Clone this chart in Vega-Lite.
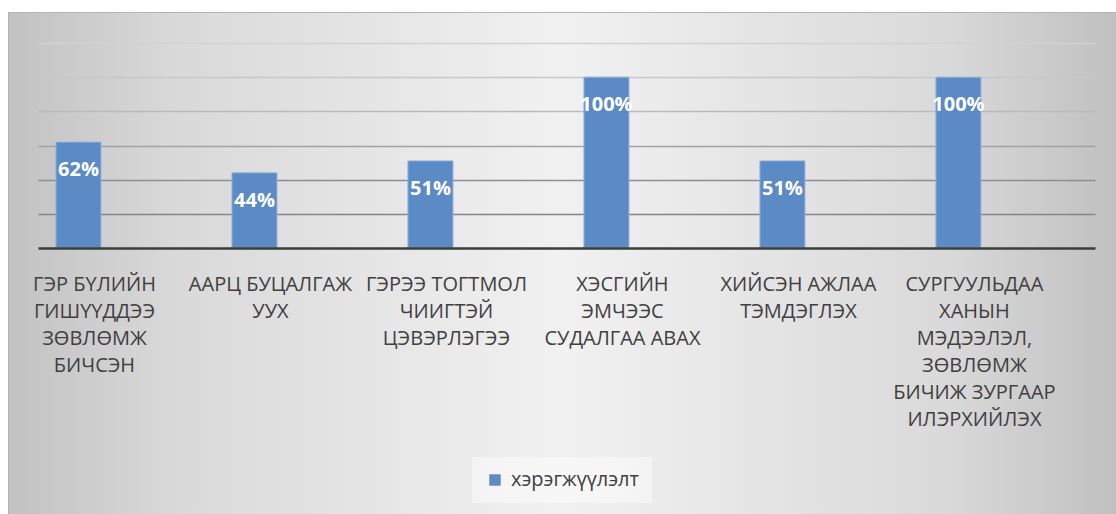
{
  "$schema": "https://vega.github.io/schema/vega-lite/v6.json",
  "width": 1108,
  "height": 502,
  "autosize": {"type": "none"},
  "padding": {"left": 8, "top": 12, "right": 0, "bottom": 0},
  "background": "#ffffff",
  "view": {
    "fill": {
      "gradient": "linear",
      "x1": 0, "y1": 0, "x2": 1, "y2": 0,
      "stops": [
        {"offset": 0, "color": "#c2c2c2"},
        {"offset": 0.15, "color": "#d9d9d9"},
        {"offset": 0.5, "color": "#f1f1f1"},
        {"offset": 0.85, "color": "#d9d9d9"},
        {"offset": 1, "color": "#c0c0c0"}
      ]
    },
    "stroke": "#b4b4b4",
    "strokeWidth": 1
  },
  "data": {
    "values": [
      {"category": "ГЭР БҮЛИЙН\nГИШҮҮДДЭЭ\nЗӨВЛӨМЖ\nБИЧСЭН", "value": 0.62},
      {"category": "ААРЦ БУЦАЛГАЖ\nУУХ", "value": 0.44},
      {"category": "ГЭРЭЭ ТОГТМОЛ\nЧИИГТЭЙ\nЦЭВЭРЛЭГЭЭ", "value": 0.51},
      {"category": "ХЭСГИЙН\nЭМЧЭЭС\nСУДАЛГАА АВАХ", "value": 1.0},
      {"category": "ХИЙСЭН АЖЛАА\nТЭМДЭГЛЭХ", "value": 0.51},
      {"category": "СУРГУУЛЬДАА\nХАНЫН\nМЭДЭЭЛЭЛ,\nЗӨВЛӨМЖ\nБИЧИЖ ЗУРГААР\nИЛЭРХИЙЛЭХ", "value": 1.0}
    ]
  },
  "encoding": {
    "x": {
      "field": "category",
      "type": "nominal",
      "sort": null,
      "title": null,
      "scale": {"range": [30, 1087], "paddingInner": 0.744, "paddingOuter": 0.375, "align": 0.136},
      "axis": {
        "orient": "bottom",
        "offset": -266,
        "zindex": 1,
        "domainColor": "#3c3c3c",
        "domainWidth": 2.5,
        "ticks": false,
        "labelAngle": 0,
        "labelAlign": "center",
        "labelBaseline": "top",
        "labelPadding": 26,
        "labelOffset": 16,
        "labelFont": "Open Sans",
        "labelFontSize": 20,
        "labelColor": "#404040",
        "labelLineHeight": 27,
        "labelLimit": 300,
        "labelOverlap": false,
        "labelExpr": "split(datum.label, '\\n')"
      }
    },
    "y": {
      "field": "value",
      "type": "quantitative",
      "title": null,
      "scale": {"domain": [0, 1.2], "range": [236, 31], "nice": false, "zero": true},
      "axis": {
        "domain": false,
        "ticks": false,
        "labels": false,
        "grid": true,
        "values": [0.2, 0.4, 0.6, 0.8, 1.0, 1.2],
        "gridWidth": 1.6,
        "gridColor": {
          "condition": [
            {"test": "datum.value < 0.3", "value": "#858585"},
            {"test": "datum.value < 0.5", "value": "#8e8e8e"},
            {"test": "datum.value < 0.7", "value": "#a2a2a2"},
            {"test": "datum.value < 0.9", "value": "#bababa"},
            {"test": "datum.value < 1.1", "value": "#c8c8c8"}
          ],
          "value": "#d2d2d2"
        }
      }
    }
  },
  "layer": [
    {
      "mark": {"type": "bar", "stroke": "#93b4df", "strokeWidth": 1},
      "encoding": {
        "color": {
          "datum": "хэрэгжүүлэлт",
          "type": "nominal",
          "scale": {"range": ["#5b8ac5"]},
          "legend": {
            "title": null,
            "orient": "none",
            "legendX": 464,
            "legendY": 445,
            "direction": "horizontal",
            "padding": 13,
            "fillColor": "rgba(255,255,255,0.45)",
            "symbolType": "square",
            "symbolSize": 130,
            "symbolStrokeWidth": 0,
            "labelFont": "Open Sans",
            "labelFontSize": 20,
            "labelColor": "#404040",
            "labelOffset": 6
          }
        }
      }
    },
    {
      "mark": {
        "type": "text",
        "color": "#ffffff",
        "font": "Open Sans",
        "fontWeight": "bold",
        "fontSize": 20,
        "baseline": "middle",
        "dy": 28
      },
      "encoding": {
        "text": {"field": "value", "type": "quantitative", "format": ".0%"}
      }
    }
  ]
}
